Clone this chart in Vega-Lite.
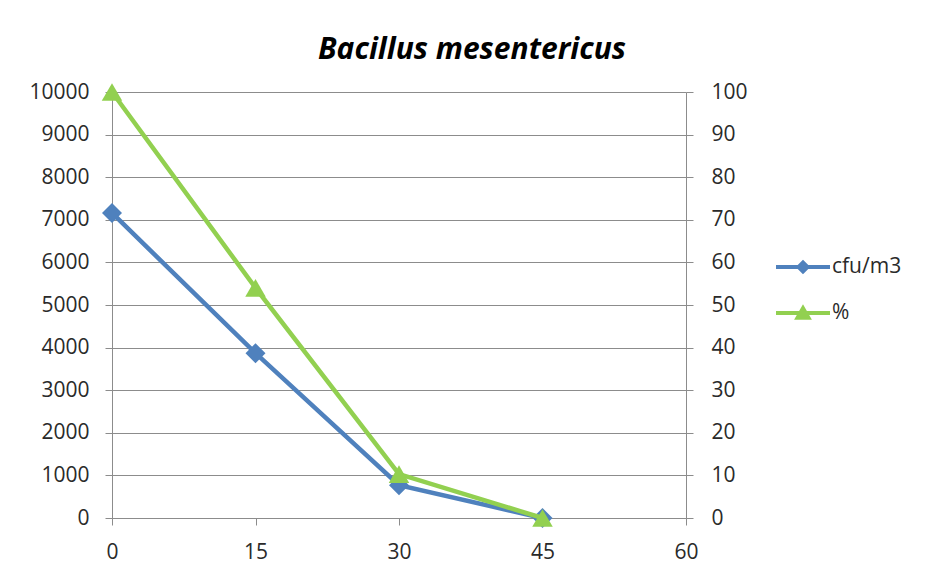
{
  "$schema": "https://vega.github.io/schema/vega-lite/v6.json",
  "autosize": "none",
  "width": 574,
  "height": 426,
  "padding": {"left": 112, "top": 92, "right": 239, "bottom": 51},
  "background": "white",
  "config": {
    "font": "Open Sans",
    "view": {"stroke": null},
    "axis": {"labelFont": "Open Sans", "labelFontSize": 21, "labelColor": "#2a2a2a", "domainColor": "#8c8c8c", "tickColor": "#8c8c8c", "gridColor": "#8c8c8c", "grid": false, "labelOverlap": false, "tickSize": 7}
  },
  "title": {
    "text": "Bacillus mesentericus",
    "font": "Open Sans",
    "fontSize": 30,
    "fontWeight": "bold",
    "fontStyle": "italic",
    "color": "#000",
    "anchor": "middle",
    "dx": 73,
    "offset": 16
  },
  "data": {
    "values": [
      {"t": 0, "series": "cfu/m3", "v": 7160},
      {"t": 15, "series": "cfu/m3", "v": 3870},
      {"t": 30, "series": "cfu/m3", "v": 770},
      {"t": 45, "series": "cfu/m3", "v": 0},
      {"t": 0, "series": "%", "v": 100},
      {"t": 15, "series": "%", "v": 54},
      {"t": 30, "series": "%", "v": 10.3},
      {"t": 45, "series": "%", "v": 0}
    ]
  },
  "encoding": {
    "x": {
      "field": "t", "type": "quantitative",
      "scale": {"domain": [0, 60], "nice": false},
      "axis": {"title": null, "values": [0, 15, 30, 45, 60], "labelPadding": 16, "labelFlush": false}
    },
    "color": {
      "field": "series", "type": "nominal",
      "scale": {"domain": ["cfu/m3", "%"], "range": ["#4F81BD", "#92D050"]},
      "legend": {
        "title": null, "orient": "none", "legendX": 664, "legendY": 148,
        "labelFontSize": 21, "labelColor": "#2a2a2a", "labelFont": "Open Sans",
        "symbolSize": 2916, "rowPadding": 9, "labelOffset": 2,
        "encode": {
          "symbols": {
            "update": {
              "shape": {"signal": "datum.value === 'cfu/m3' ? 'M-1,-0.075H1V0.075H-1Z M0,-0.27L0.27,0L0,0.27L-0.27,0Z' : 'M-1,-0.075H1V0.075H-1Z M0,-0.32L0.33,0.25L-0.33,0.25Z'"},
              "fill": {"signal": "datum.value === 'cfu/m3' ? '#4F81BD' : '#92D050'"},
              "stroke": {"value": "transparent"},
              "strokeWidth": {"value": 0},
              "opacity": {"value": 1},
              "fillOpacity": {"value": 1}
            }
          }
        }
      }
    }
  },
  "layer": [
    {
      "transform": [{"filter": "datum.series === 'cfu/m3'"}],
      "mark": {"type": "line", "strokeWidth": 4.5, "point": {"filled": true, "size": 400, "opacity": 1, "shape": "diamond"}},
      "encoding": {
        "y": {
          "field": "v", "type": "quantitative",
          "scale": {"domain": [0, 10000], "nice": false},
          "axis": {"title": null, "values": [0,1000,2000,3000,4000,5000,6000,7000,8000,9000,10000], "grid": true, "labelPadding": 16, "format": "d"}
        }
      }
    },
    {
      "transform": [{"filter": "datum.series === '%'"}],
      "mark": {"type": "line", "strokeWidth": 4.5, "point": {"filled": true, "size": 420, "opacity": 1, "shape": "triangle-up"}},
      "encoding": {
        "y": {
          "field": "v", "type": "quantitative",
          "scale": {"domain": [0, 100], "nice": false},
          "axis": {"title": null, "orient": "right", "values": [0,10,20,30,40,50,60,70,80,90,100], "labelPadding": 18, "format": "d"}
        }
      }
    }
  ],
  "resolve": {"scale": {"y": "independent"}}
}
